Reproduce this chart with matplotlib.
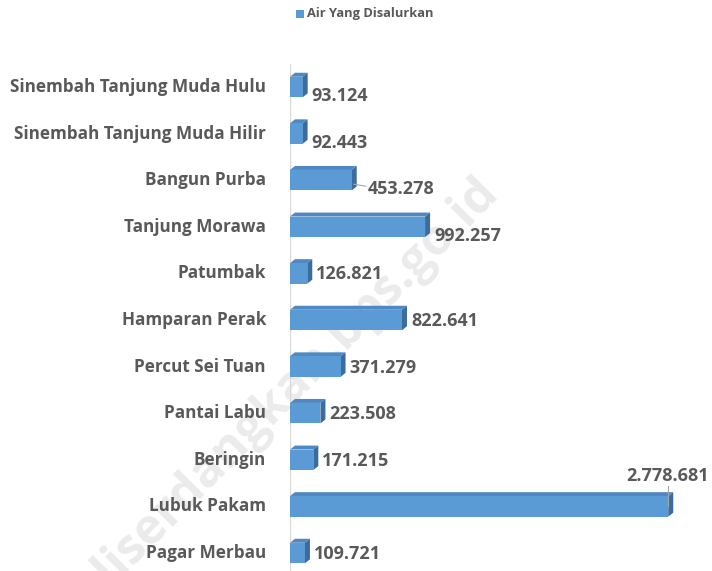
import numpy as np
import matplotlib
matplotlib.use("Agg")
import matplotlib.pyplot as plt
from matplotlib.patches import Polygon
import matplotlib.transforms as mtransforms

plt.rcParams['font.family'] = ['Open Sans', 'DejaVu Sans']

# data, bottom to top as drawn
kecamatan = ["Pagar Merbau", "Lubuk Pakam", "Beringin", "Pantai Labu", "Percut Sei Tuan",
             "Hamparan Perak", "Patumbak", "Tanjung Morawa", "Bangun Purba",
             "Sinembah Tanjung Muda Hilir", "Sinembah Tanjung Muda Hulu"]
air = [109721, 2778681, 171215, 223508, 371279, 822641, 126821, 992257, 453278, 92443, 93124]
legend_label = "Air Yang Disalurkan"

front_c = "#5B9BD5"
top_c = "#4F88C2"
side_c = "#3B6C9C"
text_c = "#595959"

W, H = 712, 571
fig = plt.figure(figsize=(W / 100, H / 100), dpi=100)

# watermark behind everything
fig.text(276 / W, 1 - 403 / H, "deliserdangkab.bps.go.id", rotation=45.3,
         ha="center", va="center", fontsize=35.5, fontweight="bold", color="#EBEBEB",
         zorder=-1, rotation_mode="anchor")

ax = fig.add_axes([290 / W, 0, 422 / W, 507.3 / H])
ax.set_xlim(0, 3.1e6)
ax.set_ylim(-0.386, 10.5)
ax.axis("off")

y = np.arange(len(kecamatan))
bh = 0.44
ax.axvline(0, color="#D9D9D9", lw=1, zorder=0)
ax.barh(y, air, height=bh, color=front_c, zorder=3)

dx, dy = 5, 4
fs_cat = 12.3
fs_val = 13
ident = mtransforms.IdentityTransform()
for i, v in enumerate(air):
    (x0, y0), (x1, y1) = ax.transData.transform([(0, i - bh / 2), (v, i + bh / 2)])
    top = Polygon([(x0, y1), (x1, y1), (x1 + dx, y1 + dy), (x0 + dx, y1 + dy)],
                  closed=True, facecolor=top_c, edgecolor="none", transform=ident, zorder=2)
    side = Polygon([(x1, y0), (x1 + dx, y0 + dy), (x1 + dx, y1 + dy), (x1, y1)],
                   closed=True, facecolor=side_c, edgecolor="none", transform=ident, zorder=2)
    ax.add_patch(top)
    ax.add_patch(side)

    lbl = f"{v:,}".replace(",", ".")
    yc = (y0 + y1) / 2
    if v == max(air):
        # label above the bar with a vertical leader line
        ax.plot([x1, x1], [yc, y1 + 10], transform=ident, color="#A6A6A6", lw=0.8, zorder=4)
        ax.annotate(lbl, xy=(x1 + 41, y1 + 11), xycoords=ident, ha="right", va="bottom",
                    fontsize=fs_val, fontweight="bold", color=text_c, annotation_clip=False)
    else:
        off = -9 if i >= 7 else -1
        gap = 11 if i == 8 else 4
        ax.annotate(lbl, xy=(x1 + dx + gap, yc + off), xycoords=ident,
                    ha="left", va="center", fontsize=fs_val, fontweight="bold", color=text_c)
        if i == 8:
            ax.plot([x1 + dx - 3, x1 + dx + gap - 2], [yc - 4, yc - 6],
                    transform=ident, color="#A6A6A6", lw=0.8)

    ax.annotate(kecamatan[i], xy=(x0 - 24, yc), xycoords=ident,
                ha="right", va="center", fontsize=fs_cat, fontweight="bold", color=text_c,
                annotation_clip=False)

# legend
fig.patches.append(plt.Rectangle((296 / W, 1 - 18 / H), 8 / W, 8 / H, transform=fig.transFigure,
                                 facecolor=front_c, edgecolor="none"))
fig.text(307 / W, 1 - 14 / H, legend_label, ha="left", va="center", fontsize=9.3,
         fontweight="bold", color=text_c)

fig.savefig("out.png", dpi=100)
